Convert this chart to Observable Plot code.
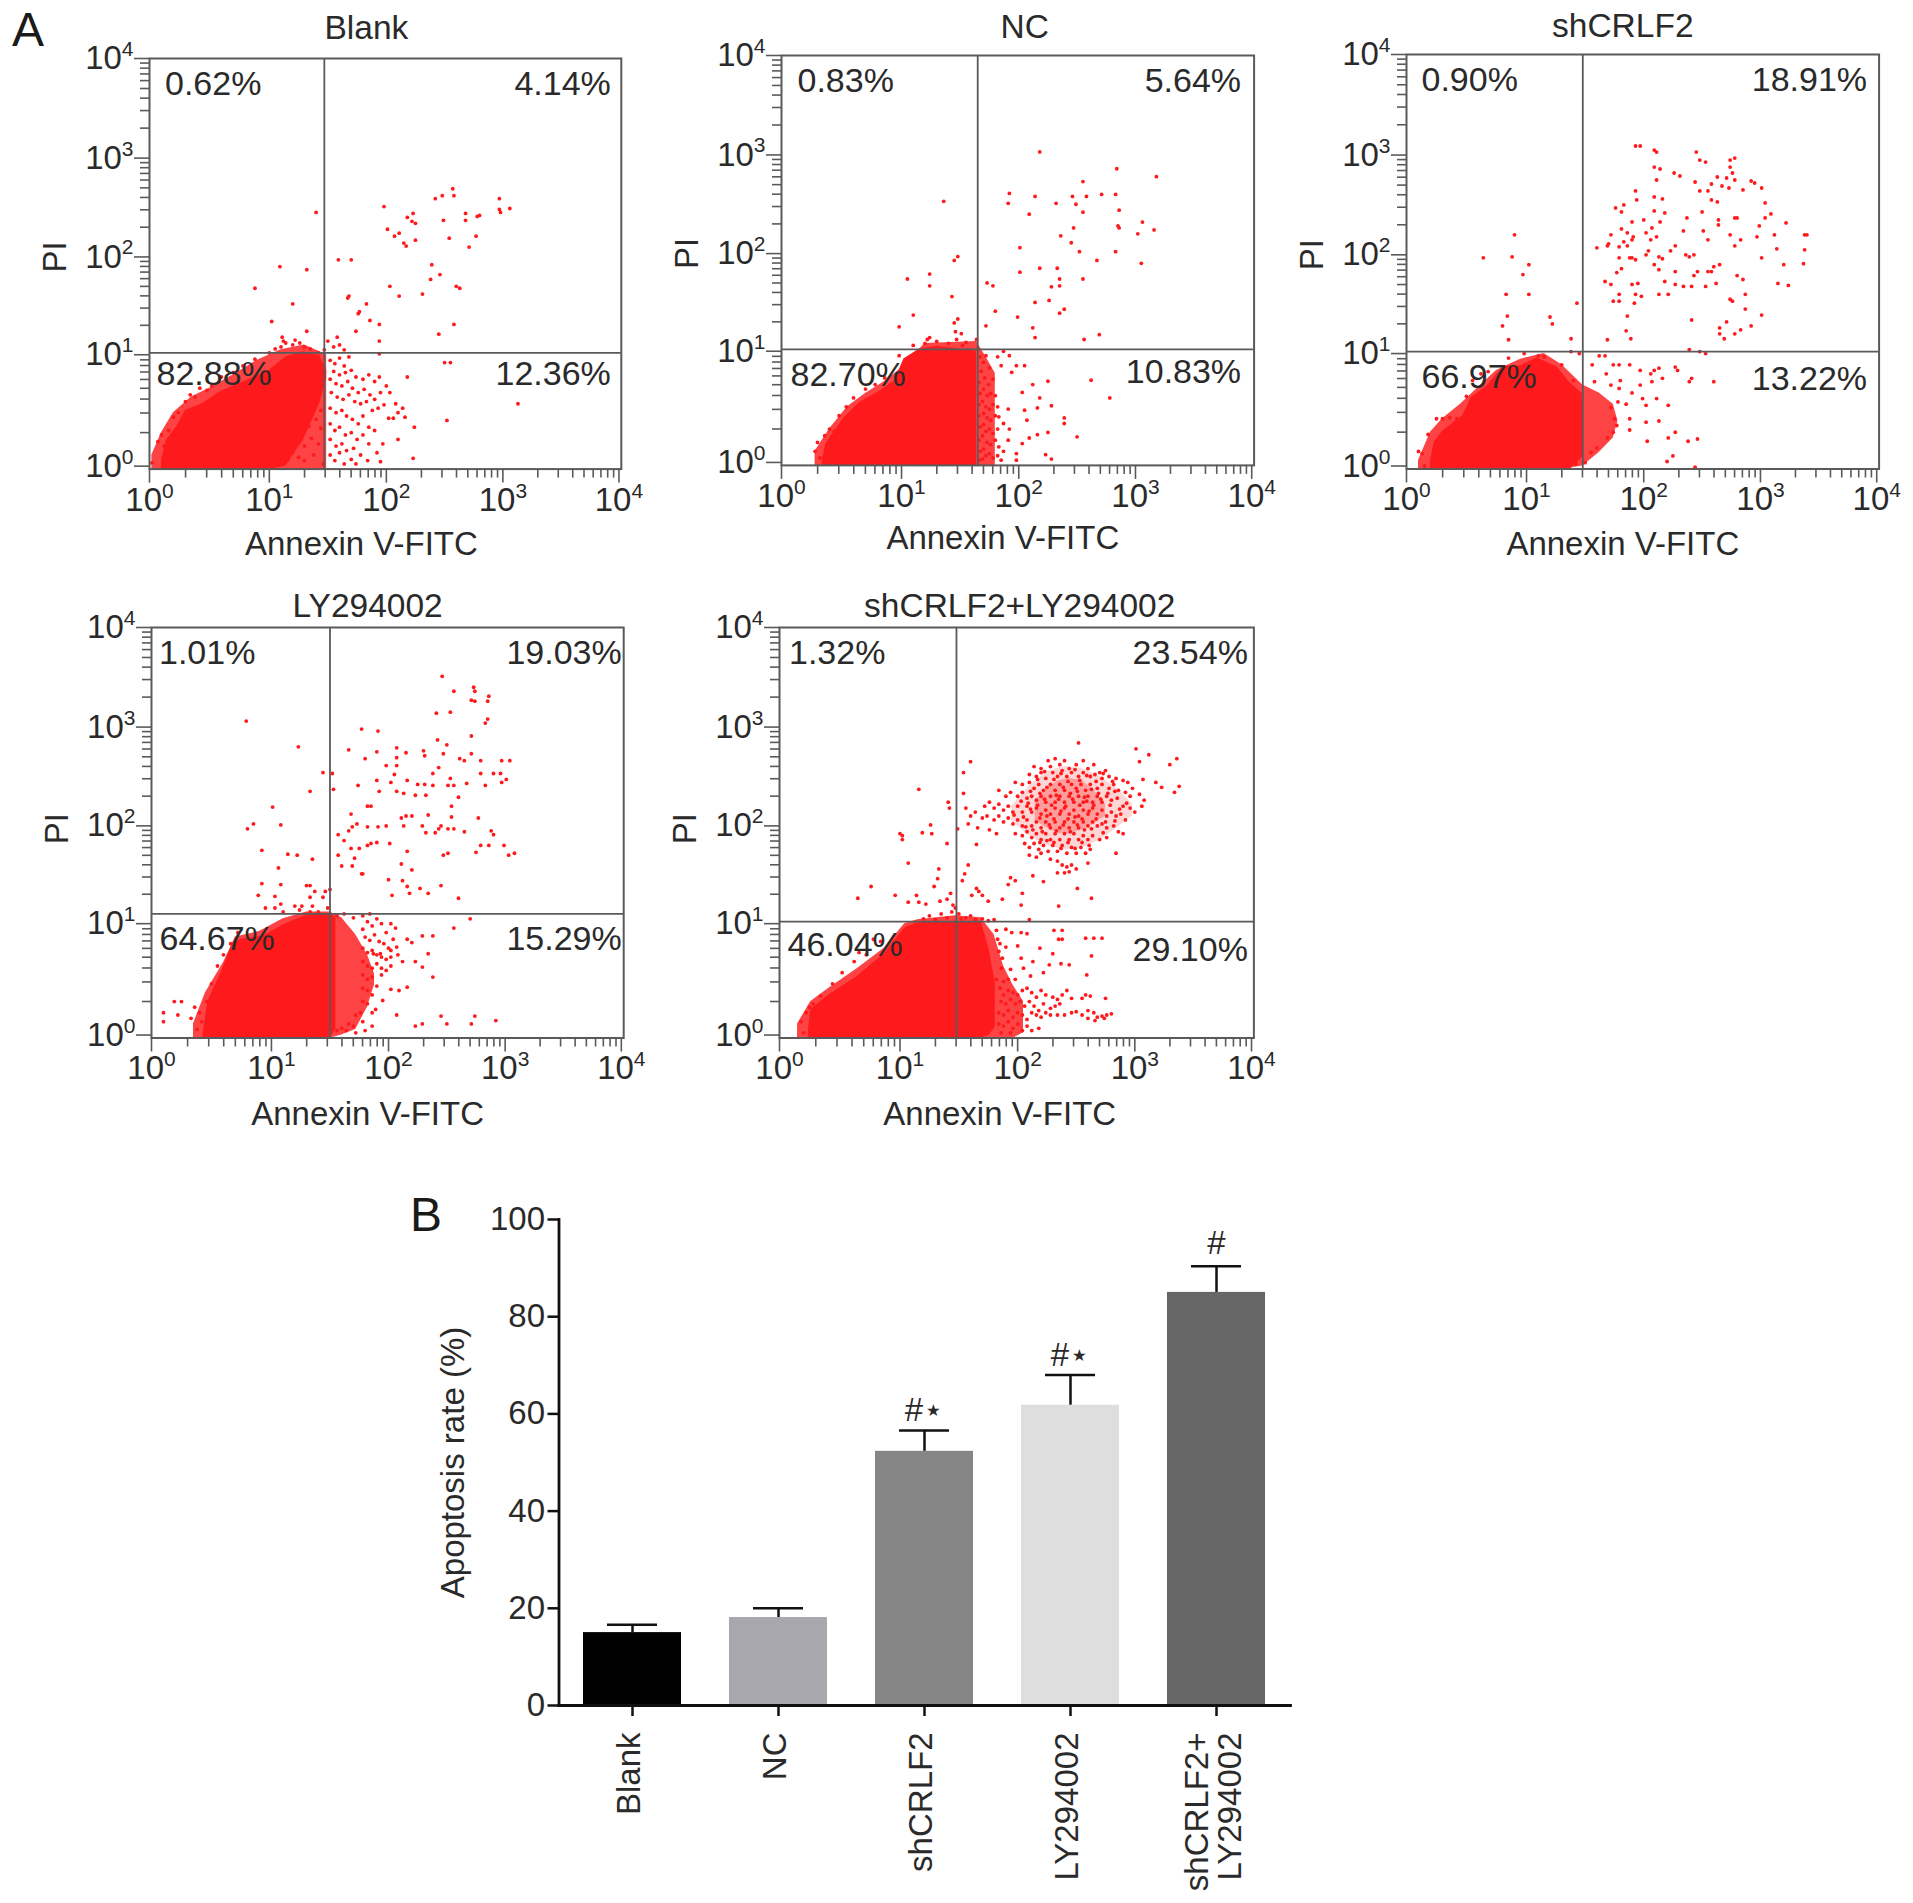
<!DOCTYPE html>
<html><head><meta charset="utf-8">
<script src="https://cdn.jsdelivr.net/npm/d3@7"></script>
<script src="https://cdn.jsdelivr.net/npm/@observablehq/plot@0.6"></script>
<style>
html,body{margin:0;padding:0;background:#fff}
#page{position:relative;width:1913px;height:1903px;overflow:hidden;font-family:"Liberation Sans",Arial,sans-serif}
#page svg{position:absolute;background:transparent}
.tag{position:absolute;font-size:48px;line-height:48px;color:#1a1a1a}
</style></head><body><div id="page">
<div class="tag" style="left:12px;top:6px">A</div>
<div class="tag" style="left:410px;top:1191px">B</div>
</div>
<script>
// All flow-cytometry readings are log10(value) pairs [Annexin V-FITC, PI].
const titles = ["Blank","NC","shCRLF2","LY294002","shCRLF2+LY294002"];
const percents = [
  ["0.62%","4.14%","82.88%","12.36%"],
  ["0.83%","5.64%","82.70%","10.83%"],
  ["0.90%","18.91%","66.97%","13.22%"],
  ["1.01%","19.03%","64.67%","15.29%"],
  ["1.32%","23.54%","46.04%","29.10%"]
];
const gateX = [1.47,1.65,1.48,1.50,1.48];
const gateY = [1.02,1.02,1.02,1.10,1.02];

const blankCore = {x:[.1,.14,.23,.3,.44,.58,.79,1,1.14,1.29,1.43,1.49],
  hi:[.05,.23,.36,.5,.56,.66,.76,.86,.98,1.03,.99,.86],
  lo:[-.03,-.03,-.03,-.03,-.03,-.03,-.03,-.03,.0,.23,.56,.79]};
const blankHalo = {x:[.02,.1,.2,.35,.5,.7,.9,1.1,1.3,1.49],
  hi:[.1,.3,.48,.62,.7,.82,.95,1.05,1.1,1.0],
  lo:[-.03,-.03,-.03,-.03,-.03,-.03,-.03,-.03,-.03,-.03]};
const ncCore = {x:[.34,.37,.52,.65,.8,.94,1.02,1.15,1.3,1.51,1.64],
  hi:[.02,.17,.4,.54,.63,.73,.93,1.02,1.05,1.02,1.0],
  lo:[-.03,-.03,-.03,-.03,-.03,-.03,-.03,-.03,-.03,-.03,-.03]};
const ncHalo = {x:[.28,.4,.55,.7,.85,1.0,1.2,1.64,1.72,1.8],
  hi:[.1,.3,.5,.62,.72,.85,1.08,1.1,.95,.8],
  lo:[-.03,-.03,-.03,-.03,-.03,-.03,-.03,-.03,-.03,-.03]};
const shCore = {x:[.2,.23,.3,.47,.54,.67,.81,.95,1.09,1.26,1.37,1.48],
  hi:[.05,.21,.31,.45,.61,.71,.89,.89,.96,.88,.74,.64],
  lo:[-.03,-.03,-.03,-.03,-.03,-.03,-.03,-.03,-.03,-.03,-.03,.08]};
const shHalo = {x:[.1,.2,.3,.45,.6,.75,.95,1.15,1.3,1.48,1.62,1.74,1.78],
  hi:[.05,.3,.42,.55,.7,.85,.95,1.0,.9,.72,.65,.55,.4],
  lo:[-.03,-.03,-.03,-.03,-.03,-.03,-.03,-.03,-.03,.0,.12,.25,.4]};
const lyCore = {x:[.43,.47,.58,.68,.75,.93,1.14,1.29,1.5,1.55],
  hi:[.0,.3,.56,.83,.86,.89,1.01,1.08,1.1,1.06],
  lo:[-.03,-.03,-.03,-.03,-.03,-.03,-.03,-.03,-.03,.05]};
const lyHalo = {x:[.35,.45,.6,.7,.9,1.1,1.3,1.5,1.6,1.72,1.82,1.88],
  hi:[.1,.38,.65,.88,.93,1.05,1.12,1.12,1.06,.9,.72,.55],
  lo:[-.03,-.03,-.03,-.03,-.03,-.03,-.03,-.03,.0,.05,.25,.45]};
const comboCore = {x:[.24,.26,.41,.65,.87,1.04,1.15,1.47,1.69,1.76,1.81],
  hi:[.05,.23,.36,.53,.73,.96,1.01,1.02,1.02,.76,.46],
  lo:[-.03,-.03,-.03,-.03,-.03,-.03,-.03,-.03,-.03,.0,.07]};
const comboHalo = {x:[.15,.26,.41,.65,.87,1.04,1.15,1.47,1.69,1.8,1.88,1.96,2.05],
  hi:[.1,.3,.42,.6,.78,1.0,1.04,1.08,1.06,.9,.62,.45,.3],
  lo:[-.03,-.03,-.03,-.03,-.03,-.03,-.03,-.03,-.03,-.03,-.03,-.03,.02]};
const comboDense = {x:[2.15,2.25,2.35,2.45,2.55,2.65,2.75],
  hi:[2.25,2.38,2.46,2.48,2.46,2.36,2.22],
  lo:[2.05,1.98,1.92,1.92,1.96,2.02,2.1]};
const comboBroad = {x:[1.95,2.1,2.25,2.4,2.55,2.7,2.85,2.98],
  hi:[2.2,2.4,2.55,2.6,2.58,2.5,2.38,2.22],
  lo:[2.05,1.9,1.8,1.75,1.78,1.85,1.98,2.1]};

const blankPts = [[1.4,2.45],[1.98,2.51],[2.57,2.69],[2.48,2.62],[2.42,2.59],[2.58,2.62],[2.97,2.59],[2.97,2.48],[2.98,2.45],[3.06,2.49],[2.68,2.44],[2.68,2.37],[2.78,2.41],[2.8,2.42],[2.18,2.4],[2.23,2.44],[2.22,2.36],[2.25,2.34],[2.25,2.17],[2.01,2.28],[2.11,2.24],[2.07,2.21],[2.15,2.14],[2.17,2.11],[2.49,2.37],[2.54,2.19],[2.77,2.21],[2.71,2.1],[2.39,1.92],[2.46,1.82],[2.38,1.77],[2.6,1.7],[2.63,1.68],[2.03,1.7],[2.11,1.6],[2.31,1.62],[2.45,1.21],[2.58,1.31],[2.5,.93],[2.55,.93],[3.13,.56],[2.52,.41],[2.18,.8],[2.24,.35],[2.23,.07],[1.59,1.97],[1.7,1.97],[1.09,1.9],[1.32,1.87],[.88,1.68],[1.2,1.52],[1.02,1.34],[1.32,1.24],[1.11,1.18],[1.67,1.58],[1.68,1.6],[1.76,1.42],[1.77,1.44],[1.83,1.52],[1.86,1.35],[1.94,1.31],[1.74,1.24],[1.94,1.14],[1.94,1.01],
[1.52,.95],[1.56,.92],[1.6,.97],[1.64,.9],[1.68,.98],[1.55,.85],[1.6,.82],[1.65,.84],[1.7,.86],[1.74,.8],[1.8,.78],[1.85,.82],[1.9,.76],[1.94,.8],[2.0,.72],[2.03,.66],[1.52,.78],[1.57,.74],[1.62,.72],[1.67,.76],[1.71,.7],[1.76,.66],[1.81,.69],[1.86,.64],[1.9,.6],[1.95,.66],[1.53,.66],[1.58,.62],[1.63,.6],[1.68,.64],[1.73,.58],[1.78,.56],[1.83,.58],[1.88,.5],[1.93,.52],[1.98,.55],[2.08,.56],[2.1,.48],[2.16,.44],[2.14,.52],[2.02,.43],[2.06,.43],[1.52,.52],[1.57,.48],[1.62,.5],[1.66,.45],[1.71,.42],[1.76,.38],[1.8,.45],[1.85,.35],[1.9,.32],[1.97,.2],[2.1,.24],[1.52,.38],[1.56,.32],[1.6,.35],[1.65,.28],[1.7,.3],[1.75,.24],[1.8,.28],[1.85,.2],[1.52,.24],[1.57,.18],[1.62,.2],[1.66,.14],[1.72,.16],[1.78,.1],[1.84,.05],[1.92,.12],[1.95,.04],[1.52,.1],[1.56,.05],[1.6,.12],[1.64,.02],[1.7,.06],[1.74,.02],[1.46,.02],[1.38,.1],[1.3,.05],[1.42,.2],[1.36,.25],[1.3,.18],[1.25,.08],[1.44,.34],[1.4,.42],[1.34,.36],[1.28,.3],[1.2,.12],[1.16,.06],[1.44,.5],
[.02,.03],[.07,.22],[.12,.18],[.1,.28],[.16,.32],[.2,.44],[.24,.48],[.3,.58],[.34,.64],[.38,.62],[.42,.7],[.48,.68],[.52,.72],[.6,.8],[.7,.84],[.78,.9],[.88,.96],[1.0,1.02],[1.05,1.06],[1.1,1.08],[1.2,1.1],[1.26,1.12],[1.22,1.15],[1.3,1.08],[1.35,1.06],[1.42,1.02],[1.47,1.05],[1.55,1.08],[1.6,1.1],[1.64,1.05],[1.58,1.18],[1.5,1.14],[1.12,1.14],[1.14,1.12]];

const ncPts = [[2.18,3.03],[2.84,2.86],[3.18,2.78],[2.55,2.73],[1.92,2.61],[1.91,2.51],[2.14,2.58],[2.09,2.4],[2.32,2.51],[2.46,2.58],[2.49,2.5],[2.58,2.58],[2.71,2.6],[2.83,2.6],[2.86,2.44],[2.55,2.42],[2.47,2.26],[2.85,2.28],[2.86,2.26],[3.06,2.32],[3.16,2.24],[3.02,2.2],[2.36,2.18],[2.45,2.11],[2.01,2.06],[2.52,2.02],[2.83,2.02],[2.67,1.93],[3.05,1.9],[2.01,1.81],[2.18,1.85],[2.33,1.85],[2.35,1.74],[2.35,1.67],[2.28,1.66],[2.55,1.74],[2.14,1.5],[2.26,1.52],[2.39,1.43],[2.35,1.39],[1.8,1.41],[1.99,1.35],[2.12,1.24],[2.14,1.14],[1.72,1.26],[2.56,1.12],[2.69,1.17],[1.73,1.7],[1.78,1.67],
[1.36,2.53],[1.48,1.97],[1.45,1.93],[1.24,1.79],[1.24,1.67],[1.05,1.74],[1.43,1.56],[1.1,1.37],[.98,1.25],[1.48,1.33],[1.45,1.29],[1.22,1.12],[1.24,1.14],[1.47,1.12],[1.51,1.18],[1.46,1.2],[1.55,1.09],[1.64,1.12],
[2.62,.74],[2.78,.58],[2.5,.23],[2.39,.4],[2.39,.35],[2.25,.73],[2.12,.7],[2.18,.58],[2.16,.49],[2.05,.47],[2.28,.51],[2.03,.63],[2.07,.38],[2.16,.25],[2.25,.27],[2.09,.22],[2.03,.17],[2.23,.07],[2.28,.03],[1.98,.02],[1.98,.08],[1.85,.87],[1.98,.87],[2.05,.87],[1.94,.81],[1.92,.96],[1.87,1.0],[1.82,.95],[1.91,.48],[1.83,.41],[1.87,.35],[1.92,.3],[1.91,.2],
[1.67,.95],[1.7,.9],[1.72,.96],[1.75,.85],[1.68,.82],[1.66,.72],[1.71,.76],[1.74,.7],[1.78,.75],[1.67,.62],[1.7,.66],[1.73,.6],[1.76,.62],[1.8,.6],[1.66,.52],[1.69,.55],[1.72,.5],[1.75,.48],[1.78,.52],[1.82,.5],[1.66,.42],[1.7,.44],[1.73,.4],[1.76,.38],[1.8,.42],[1.67,.32],[1.7,.34],[1.72,.28],[1.75,.3],[1.78,.26],[1.82,.3],[1.66,.2],[1.69,.24],[1.73,.18],[1.76,.16],[1.8,.2],[1.83,.14],[1.67,.1],[1.7,.12],[1.72,.06],[1.75,.08],[1.78,.04],[1.82,.06],[1.85,.02],[1.66,.02],[1.69,.03],[1.87,.1],
[.28,.1],[.3,.18],[.32,.04],[.36,.24],[.4,.3],[.44,.28],[.48,.42],[.54,.5],[.6,.58],[.7,.66],[.78,.7],[.86,.76],[.98,.96],[1.1,1.06],[1.2,1.08],[1.3,1.1],[1.4,1.08],[1.52,1.06]];

const shPts = [[1.93,3.09],[1.97,3.09],[2.09,3.05],[2.11,3.03],[2.45,3.03],[2.48,2.95],[2.53,2.93],[2.78,2.97],[2.74,2.95],[2.74,2.88],[2.76,2.82],[2.78,2.75],[2.71,2.77],[2.63,2.78],[2.58,2.71],[2.67,2.69],[2.73,2.67],[2.85,2.65],[2.92,2.74],[2.95,2.72],[3.01,2.67],[3.04,2.52],[3.04,2.37],[3.09,2.41],[3.22,2.32],[3.38,2.2],[3.4,2.2],[3.38,2.05],[3.37,1.91],[3.2,1.9],[3.14,2.06],[3.12,2.2],[2.99,2.29],[2.97,2.18],[3.01,1.97],[3.24,1.69],[3.15,1.71],[2.09,2.88],[2.14,2.86],[2.11,2.75],[2.26,2.82],[2.31,2.79],[2.44,2.73],[2.48,2.64],[2.55,2.64],[2.58,2.55],[2.63,2.53],[1.93,2.64],[1.94,2.55],[1.83,2.5],[1.76,2.47],[1.81,2.43],[1.9,2.33],[1.81,2.26],[1.72,2.2],[1.7,2.11],[1.69,2.09],[1.86,2.22],[1.9,2.15],[1.83,2.13],[1.79,2.08],[1.86,2.09],[1.91,2.18],[1.9,1.97],[1.88,1.97],[1.93,1.95],[1.79,1.97],[1.81,1.86],[1.77,1.82],[1.6,2.07],[1.67,1.73],[1.72,1.7],[1.79,1.6],[1.74,1.53],[1.79,1.53],[1.92,1.51],[1.9,1.7],[1.95,1.71],[1.93,1.6],[1.98,1.58],[1.86,1.38],[1.85,1.23],[1.89,1.15],[1.69,1.14],
[2,2.35],[2.02,2.22],[2.07,2.27],[2.09,2.44],[2.14,2.33],[2.18,2.42],[2.09,2.58],[2.16,2.56],[2.06,2.15],[2.11,2.18],[2.04,2.04],[2.02,2],[2.13,1.98],[2.16,1.96],[2.09,1.9],[2.13,1.85],[2.18,1.73],[2.13,1.6],[2.21,1.6],[2.27,1.83],[2.27,1.7],[2.34,1.68],[2.41,1.68],[2.43,1.79],[2.39,1.98],[2.36,2],[2.43,2],[2.27,2.09],[2.23,2.04],[2.34,2.24],[2.37,2.37],[2.5,2.43],[2.51,2.24],[2.64,2.35],[2.64,2.3],[2.74,2.2],[2.78,2.37],[2.8,2.37],[2.55,2.15],[2.78,2.09],[2.83,2.15],[2.46,1.83],[2.55,1.83],[2.53,1.68],[2.62,1.71],[2.58,1.83],[2.6,1.88],[2.65,1.9],[2.8,1.79],[2.85,1.75],[2.87,1.6],[2.74,1.55],[2.76,1.53],[2.87,1.45],[3.01,1.39],[2.92,1.28],[2.83,1.24],[2.78,1.2],[2.71,1.32],[2.65,1.26],[2.65,1.2],[2.69,1.15],[2.53,1.0],[2.48,1.02],[2.41,1.34],[2.39,1.04],
[1.56,.9],[1.62,.98],[1.67,.98],[1.74,.9],[1.79,.9],[1.88,.9],[1.97,.85],[2.09,.85],[2.13,.87],[2.27,.88],[2.29,.85],[2.39,.75],[2.41,.78],[2.6,.75],[2.11,.6],[1.99,.6],[2.02,.54],[2.21,.54],[2.13,.4],[2.02,.39],[1.88,.32],[1.88,.42],[2.03,.22],[2.21,.25],[2.27,.3],[2.38,.22],[2.46,.24],[2.2,.04],[2.25,.09],[2.44,-.01],[1.58,.75],[1.68,.82],[1.72,.72],[1.79,.69],[1.9,.65],[1.97,.72],[2.07,.75],[2.16,.78],[1.78,.57],[1.8,.76],[1.85,.55],[2.06,.82],
[1.75,.42],[1.77,.36],[1.74,.3],[1.72,.52],[1.69,.25],[1.6,.16],[1.55,.12],[1.5,.03],[1.42,.02],[1.36,.01],
[.9,2.2],[.88,1.98],[.64,1.97],[.83,1.6],[1.02,1.6],[.84,1.38],[.8,1.28],[.85,1.14],[.97,1.8],[1.02,1.9],[1.2,1.37],[1.22,1.3],[1.38,1.15],[1.43,1.51],[1.45,1.0],[1.38,1.02],
[.1,.13],[.13,.11],[.15,.0],[.25,.42],[.3,.42],[.36,.43],[.42,.42],[.18,.28],[.5,.62],[.55,.76],[.62,.82],[.68,.84],[.85,.96],[.98,1.0],[1.1,.98],[1.15,.97],[1.3,.9],[1.4,.76]];

const lyPts = [[2.46,3.51],[2.56,3.36],[2.73,3.4],[2.74,3.36],[2.71,3.27],[2.74,3.26],[2.86,3.31],[2.85,3.26],[2.41,3.14],[2.53,3.15],[2.85,3.08],[2.83,3.04],[.79,3.06],[1.23,2.8],[1.77,2.98],[1.91,2.96],[1.66,2.77],[1.9,2.75],[1.8,2.68],[2.07,2.79],[2.07,2.69],[2.15,2.74],[2.3,2.76],[2.31,2.71],[2.42,2.87],[2.5,2.82],[2.47,2.73],[2.71,2.91],[2.71,2.73],[2.79,2.66],[2.61,2.68],[2.65,2.66],[2.97,2.66],[3.04,2.66],[1.98,2.61],[2.07,2.61],[2.05,2.52],[2.02,2.44],[2.16,2.46],[2.07,2.35],[2.13,2.33],[1.9,2.46],[1.92,2.35],[1.74,2.41],[1.53,2.37],[1.52,2.53],[1.44,2.54],[1.33,2.35],[2.38,2.53],[2.43,2.59],[2.53,2.48],[2.56,2.41],[2.67,2.43],[2.6,2.29],[2.51,2.41],[2.38,2.41],[2.31,2.42],[2.25,2.42],[2.32,2.31],[2.23,2.31],[2.79,2.53],[2.83,2.41],[2.9,2.53],[2.96,2.53],[3.01,2.47],[2.97,2.44],
[1.01,2.19],[1.08,2.01],[.85,2.02],[.8,1.97],[.92,1.75],[1.14,1.71],[1.22,1.7],[1.35,1.66],[1.06,1.57],[.92,1.41],[1.08,1.4],[.89,1.29],[1.03,1.28],[.95,1.16],[1.03,1.16],[1.08,1.2],[1.1,1.12],[1.3,1.39],[1.33,1.39],[1.37,1.33],[1.33,1.27],[1.46,1.33],[1.5,1.35],[1.44,1.27],[1.26,1.18],[1.35,1.18],[1.33,1.12],[1.48,1.16],
[1.68,2.12],[1.69,1.99],[1.66,1.95],[1.73,2.02],[1.82,1.99],[1.91,1.99],[1.98,2],[1.85,2.2],[1.82,2.2],[1.57,1.91],[1.62,1.85],[1.68,1.77],[1.75,1.77],[1.82,1.8],[1.85,1.82],[1.9,1.83],[1.57,1.7],[1.71,1.67],[1.69,1.59],[1.6,1.59],[1.77,1.51],[1.78,1.51],[2.01,1.82],[2.11,2.08],[2.15,2.1],[2.2,2.1],[2.13,2],[2.29,2],[2.34,2.11],[2.43,1.97],[2.45,2],[2.32,1.93],[2.4,1.93],[2.51,1.97],[2.56,1.97],[2.65,1.94],[2.54,2.2],[2.54,2.09],[2.77,2.08],[2.88,1.95],[2.9,1.91],[2.79,1.8],[2.86,1.8],[2.99,1.8],[3.03,1.7],[3.08,1.72],[2.75,1.73],[2.51,1.72],[2.47,1.7],[2.16,1.74],[2.11,1.61],[2.2,1.55],[2,1.45],[2.12,1.44],[2.16,1.38],[2.18,1.31],[2.27,1.36],[2.34,1.31],[2.45,1.39],[2.6,1.26],[2.03,1.29],[2.7,1.05],
[2.56,.96],[2.29,.89],[2.38,.89],[2.16,.86],[2.2,.83],[2.07,.79],[2.02,.76],[1.93,.73],[1.87,.73],[2.34,.73],[2.23,.66],[2.29,.61],[2.38,.52],[2.16,.43],[2.09,.4],[2.02,.41],[1.95,.31],[1.89,.23],[1.86,.08],[2.07,.18],[2.23,.08],[2.29,.1],[2.45,.17],[2.5,.1],[2.71,.1],[2.74,.17],[2.92,.13],[.1,.2],[.1,.12],[.19,.3],[.25,.3],[.22,.18],[.33,.15],[.36,.25],
[1.78,.95],[1.82,1.02],[1.86,.98],[1.9,1.05],[1.94,1.0],[1.98,.92],[2.02,1.0],[2.06,.96],[1.8,.88],[1.84,.85],[1.88,.9],[1.92,.84],[1.96,.82],[2.0,.78],[2.04,.86],[1.78,.78],[1.82,.74],[1.86,.76],[1.9,.72],[1.94,.7],[1.98,.68],[2.02,.7],[2.08,.72],[2.12,.66],[1.78,.66],[1.82,.62],[1.86,.6],[1.9,.64],[1.94,.6],[1.98,.58],[2.02,.62],[1.78,.54],[1.82,.5],[1.86,.52],[1.9,.44],[1.94,.54],[1.78,.42],[1.82,.4],[1.86,.36],[1.78,.3],[1.82,.28],[1.86,.2],[1.76,.2],[1.72,.18],[1.78,.12],[1.7,.08],[1.66,.1],[1.64,.04],[1.6,.06],[1.56,.04],[1.72,.02],[1.8,.04],
[.38,.05],[.42,.12],[.4,.2],[.46,.3],[.48,.06],[.5,.46],[.55,.62],[.6,.72],[.66,.82],[.72,.92],[1.2,1.18],[1.24,1.14],[1.4,1.12],[1.56,1.08],[1.62,1.1],[1.7,1.06],[1.78,1.08],[1.84,1.1]];

const comboPts = [[1.16,2.37],[1.41,2.24],[1.42,2.18],[1.54,2.54],[1.6,2.65],[1.54,2.33],[1.0,1.92],[1.02,1.9],[1.02,1.86],[1.19,1.93],[1.26,2.01],[1.27,1.92],[1.4,1.82],[1.49,1.97],[1.65,1.81],[1.07,1.62],[1.33,1.56],[1.32,1.46],[1.29,1.38],[.96,1.29],[.76,1.38],[.65,1.26],[1.14,1.29],[1.07,1.22],[1.16,1.22],[1.22,1.2],[1.34,1.23],[1.43,1.31],[1.4,1.25],[1.45,1.19],[1.58,1.6],[1.55,1.51],[1.53,1.44],[1.65,1.36],[1.61,1.29],[1.7,1.29],[1.75,1.23],[1.67,1.33],[1.94,1.47],[1.98,1.44],[1.92,1.4],[2.04,1.31],[2.03,1.19],[1.87,1.25],[2.1,1.04],[2.13,1.49],[2.22,1.43],[2.35,1.18],[2.51,1.36],[2.63,1.26],[2.4,1.52],[2.34,1.52],[2.44,1.53],
[2.58,.87],[2.65,.87],[2.72,.87],[2.63,.71],[2.59,.54],[2.38,.86],[2.31,.94],[2.38,.94],[2.35,.86],[2.03,.92],[2.08,.91],[2.19,.78],[2.3,.73],[2.37,.64],[2.44,.63],[2.27,.63],[2.13,.66],[2.03,.69],[1.94,.59],[1.87,.69],[1.83,.86],[1.9,.79],[2.11,.53],[2.22,.56],
[1.85,.42],[1.88,.36],[1.92,.4],[1.96,.38],[2.0,.36],[2.04,.4],[2.08,.42],[2.12,.38],[2.16,.34],[2.2,.4],[2.24,.36],[2.3,.34],[2.34,.32],[2.38,.36],[2.42,.4],[2.46,.33],[2.55,.33],[2.58,.36],[2.62,.35],[2.75,.33],[1.86,.3],[1.9,.28],[1.94,.32],[1.98,.28],[2.02,.3],[2.06,.26],[2.1,.3],[2.14,.26],[2.18,.22],[2.22,.28],[2.28,.24],[2.32,.26],[2.36,.28],[1.84,.2],[1.88,.18],[1.92,.22],[1.96,.16],[2.0,.2],[2.04,.18],[2.08,.14],[2.12,.2],[2.16,.18],[2.2,.16],[2.24,.2],[2.28,.18],[2.34,.18],[2.4,.18],[2.46,.2],[2.5,.21],[2.55,.18],[2.6,.22],[2.65,.2],[2.68,.16],[2.72,.17],[2.76,.18],[2.8,.19],[2.6,.15],[2.66,.13],[2.74,.15],[1.84,.1],[1.88,.08],[1.92,.12],[1.96,.06],[2.0,.1],[2.04,.04],[2.08,.08],[2.12,.04],[2.18,.06],[1.86,.02],[1.94,.02],
[1.2,1.05],[1.25,1.08],[1.3,1.04],[1.35,1.1],[1.4,1.06],[1.44,1.12],[1.47,1.16],[1.5,1.1],[1.52,1.05],[1.56,1.06],[1.6,1.08],[1.64,1.04],[1.7,1.05],[1.75,1.03],[1.8,1.04],[.2,.02],[.26,.1],[.22,.2],[.28,.28],[.34,.35],[.44,.46],[.52,.56],[.62,.66],[.66,.74],[.72,.72],[.78,.86],[.84,.84],[.18,.12],[.25,.25],
[1.84,.75],[1.86,.6],[1.82,.5],[1.88,.48],[1.92,.5],[1.98,.5],[1.85,.82],[1.82,.94],[1.9,.95],[1.95,.92],[2.0,.8],[2.05,.6],
[2.52,2.84],[3.01,2.78],[3.12,2.72],[3.04,2.65],[3.36,2.68],[3.3,2.62],[3.38,2.4],[3.34,2.34],[3.18,2.44],[3.23,2.39],[3.07,2.47]];

const comboCluster = [[2.14,2.6],[2.2,2.58],[2.26,2.66],[2.28,2.6],[2.32,2.68],[2.36,2.62],[2.4,2.66],[2.44,2.58],[2.5,2.62],[2.56,2.66],[2.6,2.58],[2.65,2.62],[2.7,2.54],[2.75,2.56],[2.1,2.52],[2.16,2.5],[2.2,2.54],[2.24,2.48],[2.3,2.54],[2.34,2.5],[2.38,2.56],[2.42,2.5],[2.46,2.54],[2.52,2.5],[2.56,2.54],[2.62,2.5],[2.66,2.52],[2.72,2.48],[2.78,2.5],[2.84,2.48],[2.9,2.46],[2.94,2.44],[2.98,2.38],[1.98,2.44],[2.04,2.42],[2.1,2.44],[2.14,2.38],[2.18,2.42],[2.22,2.36],[2.28,2.42],[2.32,2.36],[2.36,2.42],[2.4,2.36],[2.46,2.42],[2.5,2.38],[2.54,2.42],[2.58,2.36],[2.62,2.42],[2.68,2.38],[2.72,2.42],[2.78,2.38],[2.82,2.42],[2.86,2.36],[2.92,2.34],[2.96,2.3],[3.04,2.32],[3.08,2.26],
[1.84,2.36],[1.9,2.3],[1.94,2.34],[2.0,2.3],[2.04,2.34],[2.08,2.28],[2.12,2.3],[2.16,2.26],[2.2,2.3],[2.24,2.24],[2.28,2.3],[2.32,2.24],[2.36,2.3],[2.4,2.24],[2.44,2.3],[2.48,2.24],[2.52,2.3],[2.56,2.24],[2.6,2.3],[2.64,2.24],[2.68,2.3],[2.72,2.24],[2.76,2.3],[2.8,2.26],[2.85,2.28],[2.9,2.2],[2.96,2.18],[3.0,2.14],[3.06,2.2],[1.72,2.2],[1.76,2.24],[1.8,2.18],[1.84,2.22],[1.88,2.16],[1.92,2.2],[1.96,2.14],[2.0,2.2],[2.04,2.14],[2.08,2.2],[2.12,2.14],[2.16,2.18],[2.2,2.12],[2.24,2.16],[2.28,2.12],[2.32,2.18],[2.36,2.12],[2.4,2.18],[2.44,2.12],[2.48,2.16],[2.52,2.1],[2.56,2.16],[2.6,2.12],[2.64,2.18],[2.68,2.12],[2.72,2.16],[2.76,2.1],[2.8,2.14],[2.84,2.1],[2.88,2.12],[2.92,2.06],
[1.56,2.18],[1.6,2.1],[1.64,2.14],[1.7,2.08],[1.74,2.1],[1.8,2.06],[1.84,2.1],[1.88,2.04],[1.92,2.08],[1.96,2.02],[2.0,2.06],[2.04,2.0],[2.08,2.06],[2.12,2.0],[2.16,2.04],[2.2,1.98],[2.24,2.04],[2.28,1.98],[2.32,2.04],[2.36,1.98],[2.4,2.04],[2.44,1.98],[2.48,2.04],[2.52,1.98],[2.56,2.04],[2.6,2.0],[2.64,2.04],[2.68,2.0],[2.72,2.02],[2.76,1.98],[2.82,2.0],[2.86,1.94],[2.9,1.92],[1.58,2.02],[1.66,1.98],[1.76,1.96],[1.82,1.92],[1.98,1.92],[2.04,1.9],[2.08,1.94],[2.12,1.88],[2.16,1.92],[2.2,1.86],[2.24,1.92],[2.28,1.86],[2.32,1.92],[2.36,1.86],[2.4,1.92],[2.44,1.86],[2.48,1.92],[2.52,1.86],[2.56,1.9],[2.6,1.86],[2.64,1.9],[2.7,1.86],[2.76,1.88],
[2.06,1.82],[2.1,1.78],[2.14,1.82],[2.18,1.76],[2.22,1.8],[2.26,1.74],[2.3,1.8],[2.34,1.74],[2.38,1.8],[2.42,1.72],[2.46,1.78],[2.5,1.72],[2.54,1.78],[2.58,1.72],[2.62,1.76],[2.84,1.72],[2.1,1.7],[2.16,1.68],[2.2,1.72],[2.28,1.66],[2.34,1.64],[2.38,1.6],[2.42,1.58],[2.46,1.6],[2.5,1.56],[2.6,1.62],
[2.17,2.47],[2.23,2.55],[2.31,2.47],[2.37,2.53],[2.43,2.45],[2.49,2.57],[2.53,2.46],[2.59,2.51],[2.67,2.45],[2.73,2.53],[2.81,2.45],[2.11,2.35],[2.19,2.33],[2.25,2.39],[2.33,2.31],[2.39,2.39],[2.45,2.33],[2.51,2.35],[2.57,2.29],[2.63,2.37],[2.69,2.33],[2.77,2.33],[2.83,2.35],[2.03,2.25],[2.09,2.23],[2.17,2.21],[2.23,2.27],[2.29,2.21],[2.35,2.27],[2.41,2.2],[2.47,2.27],[2.53,2.21],[2.59,2.25],[2.65,2.21],[2.71,2.27],[2.79,2.21],[2.87,2.17],[2.93,2.23],[1.97,2.11],[2.05,2.09],[2.11,2.17],[2.19,2.08],[2.25,2.1],[2.31,2.07],[2.37,2.15],[2.43,2.07],[2.49,2.09],[2.55,2.07],[2.61,2.15],[2.67,2.07],[2.75,2.04],[2.83,2.05],[2.07,1.99],[2.13,1.96],[2.21,1.94],[2.27,2.01],[2.33,1.95],[2.39,2.01],[2.45,1.94],[2.51,2.01],[2.57,1.96],[2.63,1.97],[2.73,1.93],[2.19,1.83],[2.25,1.85],[2.31,1.83],[2.37,1.77],[2.43,1.83],[2.49,1.77],[2.55,1.83],[2.61,1.8]];

const barGroups = ["Blank","NC","shCRLF2","LY294002","shCRLF2+\nLY294002"];
const barValues = [15,18.1,52.3,61.8,85];
const barUpper = [16.6,20,56.6,68,90.4];
const barColors = ["#000000","#a7a7ad","#868686","#dedede","#666666"];
const barMarks = ["","","#⋆","#⋆","#"];
const barMarkAt = [0,0,60.8,72.1,95];
const rateTicks = [0,20,40,60,80,100];

const RED = "#fe1a1c", INK = "#2a2a2a", LINE = "#5a5a5a";
const FONT = '"Liberation Sans", Arial, sans-serif';
const SUP = ["⁰","¹","²","³","⁴"];
const majors = [1,10,100,1000,10000];
const minors = majors.slice(0,4).flatMap(m => [2,3,4,5,6,7,8,9].map(k => k*m));
const tickFmt = d => "10" + SUP[Math.round(Math.log10(d))];

// page placement of each frame, and label offsets from it
const layout = [
 {L:149.2,T:57.5,R:621,B:468.1,tdx:-19,tdy:-30,ldx:-24,ldy:75,pdy:-7, ul:15.5,ur:-10.5,ll:7,lly:316,lry:316},
 {L:780.6,T:54.5,R:1253.2,B:464.4,tdx:7,tdy:-28,ldx:-15,ldy:73,pdy:-7, ul:16,ur:-13,ll:9,lly:320,lry:317},
 {L:1406.3,T:54.3,R:1878.9,B:468.8,tdx:-20,tdy:-28,ldx:-20,ldy:75,pdy:-7, ul:15,ur:-12,ll:15,lly:323,lry:325},
 {L:150.5,T:626.8,R:622.7,B:1037.3,tdx:-20,tdy:-21,ldx:-20,ldy:76,pdy:-4, ul:7.5,ur:-2,ll:8,lly:312,lry:312},
 {L:779.1,T:626.8,R:1253.5,B:1037.3,tdx:3,tdy:-21,ldx:-17,ldy:76,pdy:-4, ul:9.5,ur:-6,ll:8,lly:318,lry:323}
];
const xFrac = [0,.254,.502,.749,.995];
const yFrac = [.9928,.7215,.4833,.2426,0];
const PAD = {left:128,top:44,right:35,bottom:94};

const exp = pts => pts.map(([a,b]) => ({x:10**a,y:10**b}));
const band = c => c.x.map((v,i) => ({x:10**v,hi:10**c.hi[i],lo:10**c.lo[i]}));

// exponents drawn raised and smaller, as on the reference axes
function raiseExponents(svg){
  svg.querySelectorAll("text").forEach(t => {
    const s = t.textContent, k = SUP.indexOf(s.slice(2));
    if (s.startsWith("10") && s.length === 3 && k >= 0) {
      t.textContent = "10";
      const ts = document.createElementNS("http://www.w3.org/2000/svg","tspan");
      ts.setAttribute("dy","-0.62em"); ts.setAttribute("font-size","21px"); ts.textContent = String(k);
      t.appendChild(ts);
    }
  });
}

const page = document.getElementById("page");
function flowPanel(i, core, halo, pts, extra){
  const f = layout[i], fw = f.R-f.L, fh = f.B-f.T;
  const left = f.L-PAD.left, top = f.T-PAD.top;
  const marks = [
    Plot.areaY(band(halo),{x:"x",y1:"lo",y2:"hi",fill:RED,fillOpacity:.82}),
    Plot.areaY(band(core),{x:"x",y1:"lo",y2:"hi",fill:RED}),
    ...(extra||[]),
    Plot.dot(exp(pts),{x:"x",y:"y",r:1.9,fill:RED}),
    Plot.ruleX([10**gateX[i]],{stroke:LINE,strokeWidth:1.8}),
    Plot.ruleY([10**gateY[i]],{stroke:LINE,strokeWidth:1.8}),
    Plot.frame({stroke:LINE,strokeWidth:2}),
    Plot.axisX({anchor:"bottom",ticks:minors,tickSize:9,tickFormat:()=>"",label:null,color:LINE,strokeWidth:1.6}),
    Plot.axisY({anchor:"left",ticks:minors,tickSize:9,tickFormat:()=>"",label:null,color:LINE,strokeWidth:1.6}),
    Plot.axisX({anchor:"bottom",ticks:majors,tickSize:14,tickPadding:4,tickFormat:tickFmt,label:null,color:LINE,fill:INK,strokeWidth:1.6}),
    Plot.axisY({anchor:"left",ticks:majors,tickSize:15,tickPadding:1,tickFormat:tickFmt,label:null,color:LINE,fill:INK,strokeWidth:1.6}),
    Plot.text([titles[i]],{frameAnchor:"top",lineAnchor:"middle",dx:f.tdx,dy:f.tdy,fill:INK,fontSize:33.5}),
    Plot.text(["Annexin V-FITC"],{frameAnchor:"bottom",lineAnchor:"middle",dx:f.ldx,dy:f.ldy,fill:INK}),
    Plot.text(["PI"],{frameAnchor:"left",textAnchor:"middle",dx:-94,dy:f.pdy,rotate:-90,fill:INK}),
    Plot.text([percents[i][0]],{frameAnchor:"top-left",lineAnchor:"middle",dx:f.ul,dy:26,fill:INK,textAnchor:"start",fontSize:34}),
    Plot.text([percents[i][1]],{frameAnchor:"top-right",lineAnchor:"middle",dx:f.ur,dy:26,fill:INK,textAnchor:"end",fontSize:34}),
    Plot.text([percents[i][2]],{frameAnchor:"top-left",lineAnchor:"middle",dx:f.ll,dy:f.lly,fill:INK,textAnchor:"start",fontSize:34}),
    Plot.text([percents[i][3]],{frameAnchor:"top-right",lineAnchor:"middle",dx:f.ur,dy:f.lry,fill:INK,textAnchor:"end",fontSize:34})
  ];
  const svg = Plot.plot({
    width:fw+PAD.left+PAD.right, height:fh+PAD.top+PAD.bottom,
    marginLeft:PAD.left, marginRight:PAD.right, marginTop:PAD.top, marginBottom:PAD.bottom,
    style:{fontFamily:FONT,fontSize:"33px",background:"transparent",overflow:"visible"},
    x:{type:"log",axis:null,domain:majors,range:xFrac.map(t=>PAD.left+t*fw)},
    y:{type:"log",axis:null,domain:majors,range:yFrac.map(t=>PAD.top+t*fh)},
    marks
  });
  raiseExponents(svg);
  svg.style.left = left+"px"; svg.style.top = top+"px";
  page.appendChild(svg);
}
flowPanel(0,blankCore,blankHalo,blankPts);
flowPanel(1,ncCore,ncHalo,ncPts);
flowPanel(2,shCore,shHalo,shPts);
flowPanel(3,lyCore,lyHalo,lyPts);
flowPanel(4,comboCore,comboHalo,comboPts.concat(comboCluster),[
  Plot.areaY(band(comboBroad),{x:"x",y1:"lo",y2:"hi",fill:RED,fillOpacity:.18}),
  Plot.areaY(band(comboDense),{x:"x",y1:"lo",y2:"hi",fill:RED,fillOpacity:.3})
]);

// Panel B
const rows = barGroups.map((g,i)=>({g,v:barValues[i],u:barUpper[i],c:barColors[i],m:barMarks[i],a:barMarkAt[i]}));
const bar = Plot.plot({
  width:927,height:713,marginLeft:160.5,marginRight:35,marginTop:32,marginBottom:195,
  style:{fontFamily:FONT,fontSize:"33px",background:"transparent",overflow:"visible"},
  x:{type:"band",axis:null,domain:barGroups,paddingInner:.33,paddingOuter:.165},
  y:{axis:null,domain:[0,100]},
  marks:[
    Plot.barY(rows,{x:"g",y:"v",fill:"c"}),
    Plot.ruleX(rows,{x:"g",y1:"v",y2:"u",stroke:"#111",strokeWidth:2.5}),
    Plot.tickY(rows,{x:"g",y:"u",stroke:"#111",strokeWidth:2.5,insetLeft:24,insetRight:24}),
    Plot.frame({anchor:"left",stroke:"#111",strokeWidth:2.8}),
    Plot.frame({anchor:"bottom",stroke:"#111",strokeWidth:2.8}),
    Plot.axisY({anchor:"left",ticks:rateTicks,tickSize:11,tickPadding:3,label:null,color:"#111",fill:INK,strokeWidth:2.5}),
    Plot.axisX({anchor:"bottom",tickSize:11,tickFormat:()=>"",label:null,color:"#111",strokeWidth:2.5}),
    Plot.axisX({anchor:"bottom",tickSize:0,tickPadding:27,dx:-3,tickRotate:-90,label:null,color:INK,lineHeight:1}),
    Plot.text(rows.filter(d=>d.m),{x:"g",y:"a",text:"m",fill:INK}),
    Plot.text(["Apoptosis rate (%)"],{frameAnchor:"left",textAnchor:"middle",dx:-106,rotate:-90,fill:INK})
  ]
});
bar.style.left="397.5px"; bar.style.top="1187px";
page.appendChild(bar);
</script></body></html>
